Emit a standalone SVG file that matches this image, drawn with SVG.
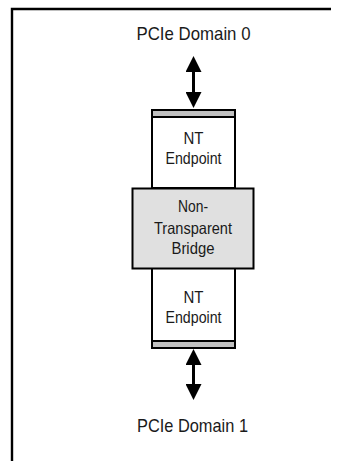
<svg xmlns="http://www.w3.org/2000/svg" width="341" height="461" viewBox="0 0 341 461">
<style>
.frame{stroke:#000;stroke-width:2.4;fill:none}
.box{stroke:#000;stroke-width:2;fill:#fff}
.bridge{stroke:#000;stroke-width:2;fill:#e0e0e0}
.strip{stroke:#000;stroke-width:2;fill:#c0c0c0}
.t{font-family:"Liberation Sans",Arial,sans-serif;fill:#1a1a1a;text-anchor:middle}
.lbl{font-size:19px}
.in{font-size:16.5px}
.conn{stroke:#000;stroke-width:3;fill:none}
</style>
<defs>
<marker id="ah" viewBox="0 0 16 16" refX="8" refY="8" markerWidth="16" markerHeight="16" markerUnits="userSpaceOnUse" orient="auto-start-reverse">
<path d="M0,0 L16,8 L0,16 z" fill="#000"/>
</marker>
</defs>
<rect width="341" height="461" fill="#fff"/>
<path class="frame" d="M12,461 L12,9 L331,9"/>
<g id="domain0">
<text class="t lbl" x="193.5" y="40" textLength="114" lengthAdjust="spacingAndGlyphs">PCIe Domain 0</text>
</g>
<g id="endpoint0">
<rect class="box" x="152" y="110" width="83" height="78"/>
<rect class="strip" x="152" y="110" width="83" height="7"/>
<text class="t in" x="193.5" y="143.5" textLength="20" lengthAdjust="spacingAndGlyphs">NT</text>
<text class="t in" x="193.5" y="164" textLength="56" lengthAdjust="spacingAndGlyphs">Endpoint</text>
</g>
<g id="endpoint1">
<rect class="box" x="152" y="268" width="83" height="80"/>
<rect class="strip" x="152" y="341" width="83" height="7"/>
<text class="t in" x="193.5" y="302.5" textLength="20" lengthAdjust="spacingAndGlyphs">NT</text>
<text class="t in" x="193.5" y="323" textLength="56" lengthAdjust="spacingAndGlyphs">Endpoint</text>
</g>
<g id="bridge">
<rect class="bridge" x="132.5" y="188.5" width="121" height="80"/>
<text class="t in" x="193" y="212" textLength="30" lengthAdjust="spacingAndGlyphs">Non-</text>
<text class="t in" x="193" y="233.5" textLength="78" lengthAdjust="spacingAndGlyphs">Transparent</text>
<text class="t in" x="193" y="254" textLength="43" lengthAdjust="spacingAndGlyphs">Bridge</text>
</g>
<g id="domain1">
<text class="t lbl" x="192.5" y="431.5" textLength="111" lengthAdjust="spacingAndGlyphs">PCIe Domain 1</text>
</g>
<g id="connectors">
<line class="conn" x1="193.5" y1="64" x2="193.5" y2="100" marker-start="url(#ah)" marker-end="url(#ah)"/>
<line class="conn" x1="193.5" y1="357" x2="193.5" y2="392" marker-start="url(#ah)" marker-end="url(#ah)"/>
</g>
</svg>
